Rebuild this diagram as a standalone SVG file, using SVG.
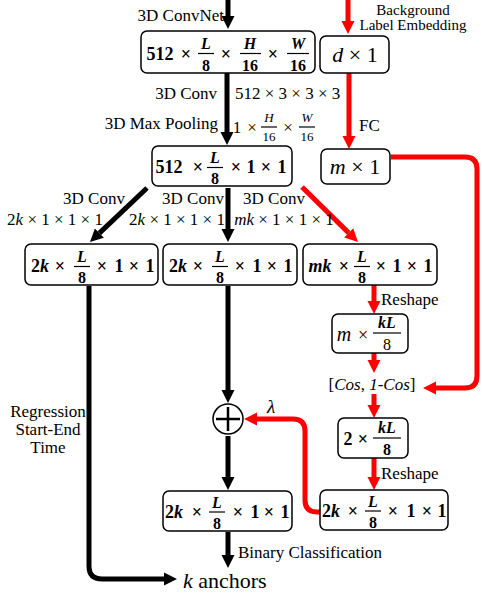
<svg xmlns="http://www.w3.org/2000/svg" width="482" height="596" viewBox="0 0 482 596">
<style>
text{font-family:"Liberation Serif","Times New Roman",serif;fill:#000}
.lbl{font-size:17px}
.m{font-size:18px;font-weight:bold;text-anchor:middle}
.mn{font-size:22px;text-anchor:middle}
.f{font-size:16px;font-weight:bold;text-anchor:middle}
.sf{font-size:13px;text-anchor:middle}
.i{font-style:italic}
.nb{font-weight:normal}
.box{fill:#fff;stroke:#000;stroke-width:1.5}
.fl{stroke:#000;stroke-width:1.2}
.cb{fill:none;stroke:#000;stroke-width:5}
.cr{fill:none;stroke:#f00;stroke-width:5}
</style>
<defs>
<marker id="ahB" markerUnits="userSpaceOnUse" markerWidth="14" markerHeight="14" refX="0" refY="0" viewBox="0 -7 14 14" orient="auto"><path d="M0,-6.5 L13,0 L0,6.5 z" fill="#000"/></marker>
<marker id="ahR" markerUnits="userSpaceOnUse" markerWidth="14" markerHeight="14" refX="0" refY="0" viewBox="0 -7 14 14" orient="auto"><path d="M0,-6.5 L13,0 L0,6.5 z" fill="#f00"/></marker>
</defs>

<g id="connectors">
<path class="cb" d="M228,0 V16" marker-end="url(#ahB)"/>
<path class="cr" d="M348,0 V21" marker-end="url(#ahR)"/>
<path class="cb" d="M227,73 V132" marker-end="url(#ahB)"/>
<path class="cr" d="M349,73 V136" marker-end="url(#ahR)"/>
<path class="cr" d="M391,157 H465 Q477,157 477,169 V376 Q477,388 465,388 H436" marker-end="url(#ahR)"/>
<path class="cb" d="M147,188 L99.4,233.1" marker-end="url(#ahB)"/>
<path class="cb" d="M228,188 V229" marker-end="url(#ahB)"/>
<path class="cr" d="M302,187 L348.7,232.9" marker-end="url(#ahR)"/>
<path class="cr" d="M374,285 V301" marker-end="url(#ahR)"/>
<path class="cr" d="M374,353 V360" marker-end="url(#ahR)"/>
<path class="cr" d="M374,394 V405" marker-end="url(#ahR)"/>
<path class="cr" d="M374,458 V477" marker-end="url(#ahR)"/>
<path class="cr" d="M321,512 H317 Q305,512 305,500 V431 Q305,419 293,419 H257" marker-end="url(#ahR)"/>
<path class="cb" d="M228,286 V390" marker-end="url(#ahB)"/>
<path class="cb" d="M228,436 V477" marker-end="url(#ahB)"/>
<path class="cb" d="M228,532 V555" marker-end="url(#ahB)"/>
<path class="cb" d="M89,286 V566 Q89,579 102,579 H164" marker-end="url(#ahB)"/>
</g>

<g id="labels">
<text class="lbl" x="224" y="21" text-anchor="end">3D ConvNet</text>
<text x="413" y="15" font-size="15" text-anchor="middle">Background</text>
<text x="413" y="30" font-size="15" text-anchor="middle">Label Embedding</text>
<text class="lbl" x="217" y="99" text-anchor="end">3D Conv</text>
<text class="lbl" x="235" y="99">512 × 3 × 3 × 3</text>
<text class="lbl" x="218" y="129" text-anchor="end">3D Max Pooling</text>
<text class="lbl" y="133" text-anchor="middle"><tspan x="237">1</tspan><tspan x="252">×</tspan><tspan x="288">×</tspan></text>
<text class="sf i" x="269" y="122">H</text><line class="fl" x1="261" y1="127" x2="277" y2="127"/><text class="sf" x="269" y="141">16</text>
<text class="sf i" x="307" y="122">W</text><line class="fl" x1="299" y1="127" x2="315" y2="127"/><text class="sf" x="307" y="141">16</text>
<text class="lbl" x="359" y="131">FC</text>
<text class="lbl" x="94" y="204" text-anchor="middle">3D Conv</text>
<text class="lbl" x="55" y="225" text-anchor="middle">2<tspan class="i">k</tspan> × 1 × 1 × 1</text>
<text class="lbl" x="193" y="204" text-anchor="middle">3D Conv</text>
<text class="lbl" x="177" y="225" text-anchor="middle">2<tspan class="i">k</tspan> × 1 × 1 × 1</text>
<text class="lbl" x="274" y="204" text-anchor="middle">3D Conv</text>
<text class="lbl" x="284" y="225" text-anchor="middle"><tspan class="i">mk</tspan> × 1 × 1 × 1</text>
<text class="lbl" x="381" y="305">Reshape</text>
<text class="lbl" x="372" y="390" text-anchor="middle">[<tspan class="i">Cos</tspan>, <tspan class="i">1-Cos</tspan>]</text>
<text class="lbl" x="381" y="479">Reshape</text>
<text x="271" y="413" font-size="19" font-style="italic" text-anchor="middle">λ</text>
<text class="lbl" x="48" y="417" text-anchor="middle">Regression</text>
<text class="lbl" x="48" y="435" text-anchor="middle">Start-End</text>
<text class="lbl" x="48" y="453" text-anchor="middle">Time</text>
<text class="lbl" x="238" y="558">Binary Classification</text>
<text x="183" y="588" font-size="22"><tspan class="i">k</tspan> anchors</text>
</g>

<g id="n-feat">
<rect class="box" x="141" y="31" width="174" height="42" rx="6"/>
<text class="m" y="60"><tspan x="160">512</tspan><tspan x="186">×</tspan><tspan x="226">×</tspan><tspan x="273">×</tspan></text>
<text class="f i" x="206" y="49">L</text><line class="fl" x1="198" y1="53.5" x2="214" y2="53.5"/><text class="f" x="206" y="71">8</text>
<text class="f i" x="250" y="49">H</text><line class="fl" x1="240" y1="53.5" x2="261" y2="53.5"/><text class="f" x="250" y="71">16</text>
<text class="f i" x="298" y="49">W</text><line class="fl" x1="287" y1="53.5" x2="309" y2="53.5"/><text class="f" x="298" y="71">16</text>
</g>

<g id="n-d">
<rect class="box" x="320" y="36" width="69" height="37" rx="6"/>
<text class="mn" x="355" y="62"><tspan class="i">d</tspan> × 1</text>
</g>

<g id="n-pool">
<rect class="box" x="152" y="146" width="140" height="40" rx="6"/>
<text class="m" y="173"><tspan x="169">512</tspan><tspan x="198">×</tspan><tspan x="236">×</tspan><tspan x="251">1</tspan><tspan x="266">×</tspan><tspan x="282">1</tspan></text>
<text class="f i" x="215" y="163">L</text><line class="fl" x1="207" y1="167.5" x2="223" y2="167.5"/><text class="f" x="215" y="184">8</text>
</g>

<g id="n-m">
<rect class="box" x="321" y="149" width="69" height="35" rx="6"/>
<text class="mn" x="355" y="174"><tspan class="i">m</tspan> × 1</text>
</g>

<g id="n-reg">
<rect class="box" x="25" y="244" width="133" height="41" rx="6"/>
<text class="m" y="272"><tspan x="40">2<tspan class="i">k</tspan></tspan><tspan x="60">×</tspan><tspan x="102">×</tspan><tspan x="119">1</tspan><tspan x="134">×</tspan><tspan x="150">1</tspan></text>
<text class="f i" x="82" y="262">L</text><line class="fl" x1="74" y1="266.5" x2="90" y2="266.5"/><text class="f" x="82" y="283">8</text>
</g>

<g id="n-cls">
<rect class="box" x="163" y="244" width="134" height="41" rx="6"/>
<text class="m" y="272"><tspan x="178">2<tspan class="i">k</tspan></tspan><tspan x="198">×</tspan><tspan x="240">×</tspan><tspan x="257">1</tspan><tspan x="272">×</tspan><tspan x="288">1</tspan></text>
<text class="f i" x="220" y="262">L</text><line class="fl" x1="212" y1="266.5" x2="228" y2="266.5"/><text class="f" x="220" y="283">8</text>
</g>

<g id="n-mk">
<rect class="box" x="303" y="244" width="134" height="41" rx="6"/>
<text class="m" y="272"><tspan x="320" class="i">mk</tspan><tspan x="344">×</tspan><tspan x="381">×</tspan><tspan x="397">1</tspan><tspan x="412">×</tspan><tspan x="428">1</tspan></text>
<text class="f i" x="362" y="262">L</text><line class="fl" x1="354" y1="266.5" x2="370" y2="266.5"/><text class="f" x="362" y="283">8</text>
</g>

<g id="n-mkl">
<rect class="box" x="332" y="314" width="76" height="39" rx="6"/>
<text class="m nb" y="341"><tspan x="344" class="i" style="font-size:20px">m</tspan><tspan x="363">×</tspan></text>
<text class="f i" x="387" y="328">kL</text><line class="fl" x1="373" y1="333" x2="401" y2="333"/><text class="f nb" x="387" y="350">8</text>
</g>

<g id="n-2kl">
<rect class="box" x="338" y="418" width="70" height="40" rx="6"/>
<text class="m" y="445"><tspan x="348">2</tspan><tspan x="363">×</tspan></text>
<text class="f i" x="387" y="433">kL</text><line class="fl" x1="373" y1="438" x2="401" y2="438"/><text class="f" x="387" y="455">8</text>
</g>

<g id="n-plus">
<circle cx="228" cy="419" r="15" fill="#fff" stroke="#000" stroke-width="1.5"/>
<path d="M216,419 H240 M228,407 V431" stroke="#000" stroke-width="2.5"/>
</g>

<g id="n-out">
<rect class="box" x="163" y="491" width="129" height="40" rx="6"/>
<text class="m" y="518"><tspan x="174">2<tspan class="i">k</tspan></tspan><tspan x="197">×</tspan><tspan x="238">×</tspan><tspan x="255">1</tspan><tspan x="269">×</tspan><tspan x="285">1</tspan></text>
<text class="f i" x="217" y="508">L</text><line class="fl" x1="209" y1="512" x2="225" y2="512"/><text class="f" x="217" y="529">8</text>
</g>

<g id="n-bg">
<rect class="box" x="320" y="490" width="128" height="40" rx="6"/>
<text class="m" y="517"><tspan x="331">2<tspan class="i">k</tspan></tspan><tspan x="353">×</tspan><tspan x="393">×</tspan><tspan x="411">1</tspan><tspan x="427">×</tspan><tspan x="442">1</tspan></text>
<text class="f i" x="373" y="507">L</text><line class="fl" x1="365" y1="511" x2="381" y2="511"/><text class="f" x="373" y="528">8</text>
</g>
</svg>
